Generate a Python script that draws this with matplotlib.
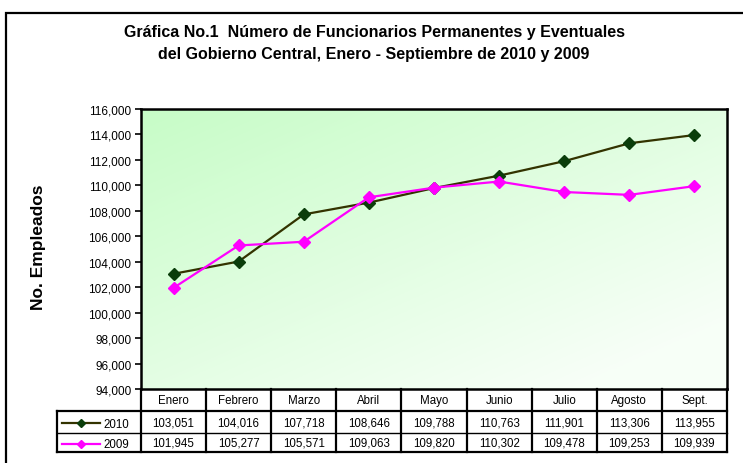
import numpy as np
import matplotlib.pyplot as plt
from matplotlib.patches import Rectangle
from matplotlib.ticker import FuncFormatter

plt.rcParams['font.family'] = ['Liberation Sans', 'DejaVu Sans']

meses = ["Enero", "Febrero", "Marzo", "Abril", "Mayo", "Junio", "Julio", "Agosto", "Sept."]
v2010 = [103051, 104016, 107718, 108646, 109788, 110763, 111901, 113306, 113955]
v2009 = [101945, 105277, 105571, 109063, 109820, 110302, 109478, 109253, 109939]
series = [("2010", v2010, "#333300", "#0b3d0b"), ("2009", v2009, "#ff00ff", "#ff00ff")]

W, H = 743, 464
fig = plt.figure(figsize=(W / 100, H / 100), dpi=100)

def px(x0, y0, x1, y1):
    # pixel box -> figure fraction [left, bottom, width, height]
    return [x0 / W, 1 - y1 / H, (x1 - x0) / W, (y1 - y0) / H]

# outer frame
fig.patches.append(Rectangle((6 / W, -0.1), 1.0, 1 - 14 / H + 0.1, transform=fig.transFigure,
                             fill=False, lw=1.6, ec="black"))

fig.text(374 / W, 1 - 33 / H, u"Gráfica No.1  Número de Funcionarios Permanentes y Eventuales",
         ha="center", va="center", fontsize=11.5, fontweight="bold")
fig.text(374 / W, 1 - 54 / H, "del Gobierno Central, Enero - Septiembre de 2010 y 2009",
         ha="center", va="center", fontsize=11.5, fontweight="bold")

# main plot
x = np.arange(len(meses))
ax = fig.add_axes(px(141, 110, 727, 390))
ax.set_xlim(-0.5, len(meses) - 0.5)
ax.set_ylim(94000, 116000)
ax.set_yticks(np.arange(94000, 116001, 2000))
ax.yaxis.set_major_formatter(FuncFormatter(lambda v, p: f"{int(v):,}"))
ax.set_xticks([])
ax.tick_params(axis="y", direction="out", length=4, width=1.2, labelsize=8.5, pad=3)

grad = np.linspace(0, 1, 200)
gx, gy = np.meshgrid(grad, grad)
t = np.clip(0.55 * gx + 0.6 * (1 - gy), 0, 1)  # 0 at top-left
c0 = np.array([0.78, 0.99, 0.78])
c1 = np.array([0.97, 1.0, 0.97])
img = c0[None, None, :] * (1 - t[..., None]) + c1[None, None, :] * t[..., None]
ax.imshow(img, extent=[-0.5, len(meses) - 0.5, 94000, 116000], origin="lower",
          aspect="auto", zorder=0)

for name, vals, lc, mc in series:
    ax.plot(x, vals, color=lc, lw=1.6, marker="D", ms=6, mfc=mc, mec=mc, zorder=3)

for s in ax.spines.values():
    s.set_linewidth(1.8)

fig.text(39 / W, 1 - 247 / H, "No. Empleados", rotation=90, ha="center", va="center",
         fontsize=12.5, fontweight="bold")

# data table under the plot
col_w = 586 / len(meses)
tx0 = -0.5 - 84 / col_w
tab = fig.add_axes(px(57, 390, 727, 453))
tab.set_xlim(tx0, len(meses) - 0.5)
tab.set_ylim(63, 0)
tab.axis("off")
rows = [0, 22, 44, 63]
lw = 1.6
for i in range(len(meses) + 1):
    tab.plot([i - 0.5, i - 0.5], [0, 63], color="black", lw=lw, clip_on=False)
tab.plot([tx0, len(meses) - 0.5], [rows[1], rows[1]], color="black", lw=lw, clip_on=False)
tab.plot([tx0, len(meses) - 0.5], [rows[3], rows[3]], color="black", lw=lw, clip_on=False)
tab.plot([tx0, len(meses) - 0.5], [rows[2], rows[2]], color="black", lw=1.0, clip_on=False)
tab.plot([tx0, tx0], [rows[1], rows[3]], color="black", lw=lw, clip_on=False)

for i, m in enumerate(meses):
    tab.text(i, 11, m, ha="center", va="center", fontsize=8.3)
for r, (name, vals, lc, mc) in enumerate(series):
    yc = (rows[r + 1] + rows[r + 2]) / 2 + 1
    for i, v in enumerate(vals):
        tab.text(i, yc - 1, f"{v:,}", ha="center", va="center", fontsize=8.3)
    lx0 = tx0 + 5 / col_w
    lx1 = tx0 + 43 / col_w
    tab.plot([lx0, lx1], [yc, yc], color=lc, lw=1.6, clip_on=False)
    tab.plot([(lx0 + lx1) / 2], [yc], marker="D", ms=4, color=mc, clip_on=False)
    tab.text(tx0 + 46 / col_w, yc + 1, name, ha="left", va="center", fontsize=8.3)

fig.savefig("out.png", dpi=100)
